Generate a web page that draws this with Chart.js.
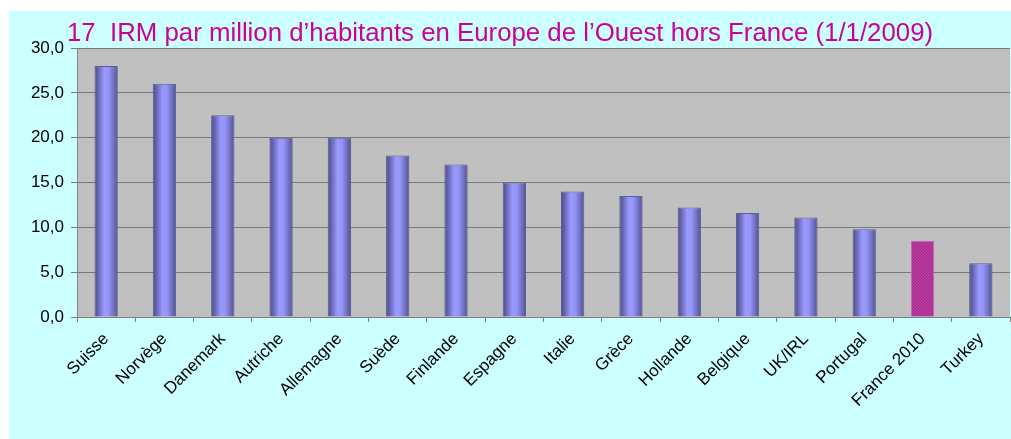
<!DOCTYPE html>
<html>
<head>
<meta charset="utf-8">
<script src="https://cdn.jsdelivr.net/npm/chart.js@4/dist/chart.umd.min.js"></script>
<style>
  html, body { margin: 0; padding: 0; background: #ffffff; }
  #wrap { width: 1011px; height: 439px; position: relative; }
</style>
</head>
<body>
<div id="wrap"><canvas id="irmChart"></canvas></div>
<script>
// === DATA ===
const countries = ['Suisse', 'Norvège', 'Danemark', 'Autriche', 'Allemagne', 'Suède', 'Finlande', 'Espagne',
    'Italie', 'Grèce', 'Hollande', 'Belgique', 'UK/IRL', 'Portugal', 'France 2010', 'Turkey'];
const irmPerMillion = [28.0, 26.0, 22.5, 20.0, 20.0, 18.0, 17.0, 15.0, 14.0, 13.5, 12.2, 11.6, 11.1, 9.8, 8.5, 6.0];
const highlighted = 'France 2010';
const titleText = '17  IRM par million d\u2019habitants en Europe de l\u2019Ouest hors France (1/1/2009)';

const FONT = '"Liberation Sans", Arial, sans-serif';

// hatched magenta fill for the France bar
function makeHatch() {
    const c = document.createElement('canvas');
    c.width = 3; c.height = 3;
    const g = c.getContext('2d');
    g.fillStyle = '#b93ca0';
    g.fillRect(0, 0, 3, 3);
    g.fillStyle = '#a02888';
    g.fillRect(0, 2, 1, 1); g.fillRect(1, 1, 1, 1); g.fillRect(2, 0, 1, 1);
    return document.createElement('canvas').getContext('2d').createPattern(c, 'repeat');
}
const hatch = makeHatch();

function barFill(ctx) {
    const chart = ctx.chart;
    if (countries[ctx.dataIndex] === highlighted) return hatch;
    if (!chart.chartArea) return '#9999ff';
    const xs = chart.scales.x;
    const cx = xs.getPixelForValue(ctx.dataIndex);
    const w = (xs.width / countries.length) * 0.4;
    const g = chart.ctx.createLinearGradient(cx - w / 2, 0, cx + w / 2, 0);
    g.addColorStop(0, '#4a4a82');
    g.addColorStop(0.18, '#6a6ab8');
    g.addColorStop(0.42, '#9a9aff');
    g.addColorStop(0.6, '#9595f8');
    g.addColorStop(0.85, '#6c6cba');
    g.addColorStop(1, '#4e4e88');
    return g;
}

const backdrop = {
    id: 'backdrop',
    beforeDraw(chart) {
        const { ctx, chartArea: a } = chart;
        ctx.save();
        ctx.fillStyle = '#ccffff';
        ctx.fillRect(9, 11, chart.width - 9, chart.height - 11);
        ctx.fillStyle = '#c0c0c0';
        ctx.fillRect(a.left, a.top, a.right - a.left, a.bottom - a.top);
        ctx.fillStyle = '#cc0099';
        ctx.font = '25.8px ' + FONT;
        ctx.textBaseline = 'alphabetic';
        ctx.fillText(titleText, 67, 41);
        ctx.restore();
    }
};

new Chart(document.getElementById('irmChart'), {
    type: 'bar',
    data: {
        labels: countries,
        datasets: [{
            data: irmPerMillion,
            backgroundColor: barFill,
            borderColor: countries.map(c => c === highlighted ? '#d060b8' : '#5c5c96'),
            borderWidth: 1,
            barPercentage: 0.4,
            categoryPercentage: 1.0
        }]
    },
    options: {
        responsive: true, maintainAspectRatio: false, animation: false,
        layout: { padding: { top: 48, left: 0, right: 1, bottom: 0 } },
        plugins: { legend: { display: false }, tooltip: { enabled: false }, title: { display: false } },
        scales: {
            x: {
                grid: { offset: true, drawOnChartArea: false, color: '#808080', tickLength: 5 },
                border: { color: '#808080' },
                ticks: { color: '#000', font: { family: FONT, size: 17 }, maxRotation: 45, minRotation: 45, padding: 7, autoSkip: false },
                afterFit: s => { s.height = 122; }
            },
            y: {
                min: 0, max: 30,
                grid: { color: '#7a7a7a', tickLength: 6 },
                border: { color: '#808080' },
                ticks: { stepSize: 5, color: '#000', font: { family: FONT, size: 17 }, padding: 7,
                    callback: v => v.toFixed(1).replace('.', ',') },
                afterFit: s => { s.width = 77; }
            }
        }
    },
    plugins: [backdrop]
});
</script>
</body>
</html>
